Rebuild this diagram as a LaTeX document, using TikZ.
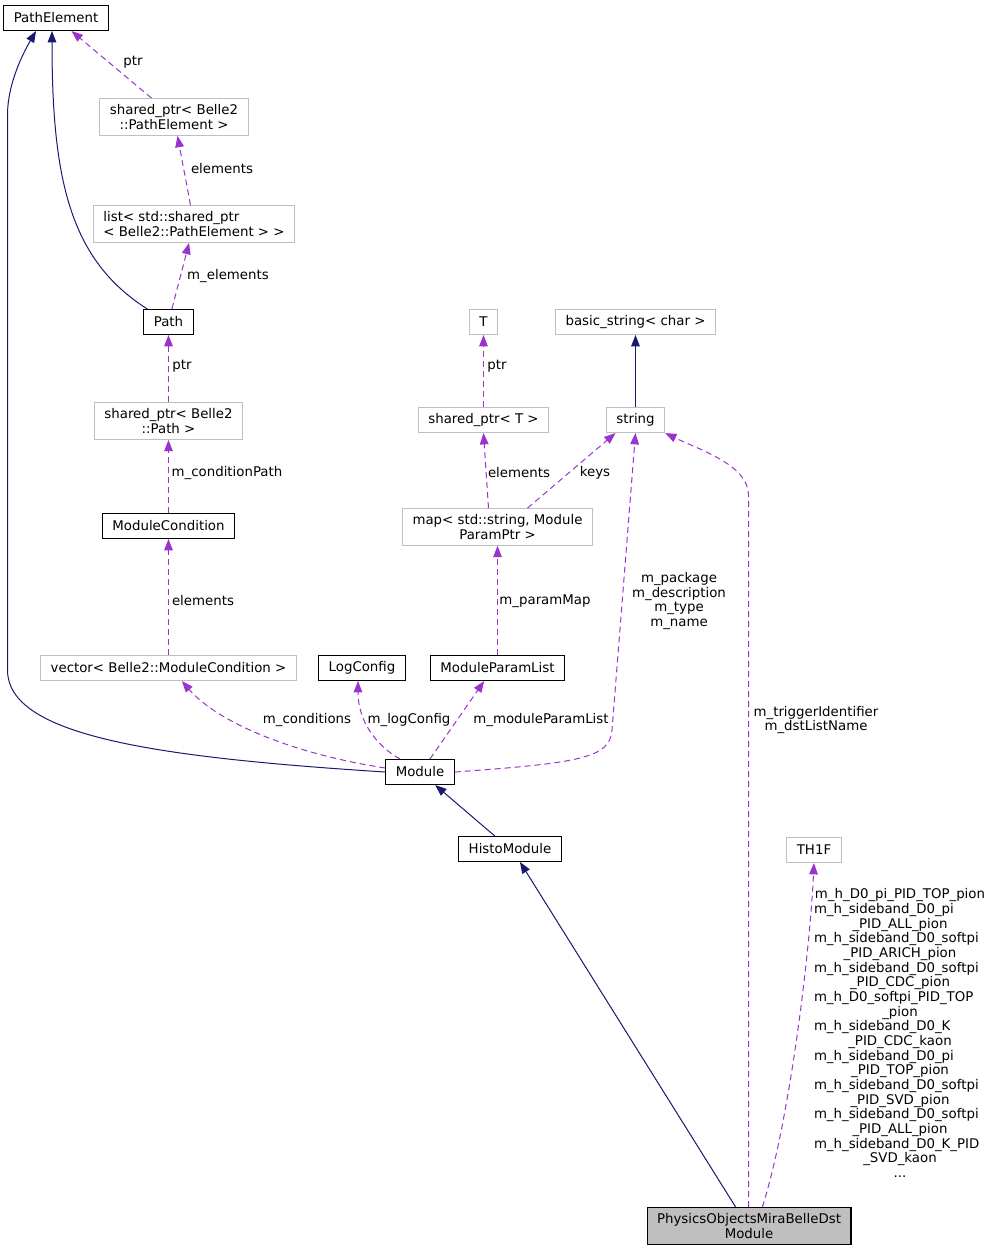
\documentclass[tikz,border=0pt]{standalone}
\usepackage{fontspec}
\setmainfont{DejaVu Sans}
\usepackage{xcolor}
\usepackage{tikz}
\usetikzlibrary{arrows.meta}

\definecolor{inhblue}{HTML}{191970}
\definecolor{usepurple}{HTML}{9A32CD}
\definecolor{undocgray}{HTML}{BFBFBF}
\newcommand{\lblleft}[1]{\makebox[\linewidth][l]{#1}}

\begin{document}
\begin{tikzpicture}[x=0.75pt, y=-0.75pt,
                every node/.style={font=\fontsize{10}{11}\selectfont},
                doc/.style={draw=black, fill=white, line width=0.8pt, inner xsep=7.5pt, inner ysep=4.4pt, minimum height=18.75pt, align=center},
                undoc/.style={doc, draw=undocgray},
                this/.style={doc, fill=undocgray},
                inh/.style={draw=inhblue, line width=0.75pt, -{Triangle[length=8.5pt, width=6.5pt]}},
                uses/.style={draw=usepurple, line width=0.75pt, dash pattern=on 4.5pt off 3pt, -{Triangle[length=8.5pt, width=6.5pt]}},
                lbl/.style={inner sep=0pt, align=center}]
                \useasboundingbox (0,0) rectangle (992,1253);
                \node[doc] (PathElement) at (56,18) {PathElement};
                \node[undoc] (PathElemPtr) at (174,117) {shared\_ptr< Belle2\\::PathElement >};
                \node[undoc, align=left] (PathElemList) at (194,224) {list< std::shared\_ptr\\< Belle2::PathElement > >};
                \node[doc] (Path) at (168.5,322) {Path};
                \node[undoc] (PathPtr) at (168.5,421) {shared\_ptr< Belle2\\::Path >};
                \node[doc] (ModuleCondition) at (168.5,526) {ModuleCondition};
                \node[undoc] (CondVector) at (168.5,668) {vector< Belle2::ModuleCondition >};
                \node[doc] (LogConfig) at (362,668) {LogConfig};
                \node[doc] (ModuleParamList) at (497.5,668) {ModuleParamList};
                \node[doc] (Module) at (420,772) {Module};
                \node[doc] (HistoModule) at (510,849) {HistoModule};
                \node[this] (MiraBelleDst) at (749,1226) {PhysicsObjectsMiraBelleDst\\Module};
                \node[undoc] (TH1F) at (814,850) {TH1F};
                \node[undoc] (T) at (483.5,322) {T};
                \node[undoc] (BasicString) at (635.5,322) {basic\_string< char >};
                \node[undoc] (TPtr) at (483.5,420) {shared\_ptr< T >};
                \node[undoc] (String) at (635.5,420) {string};
                \node[undoc] (ParamMap) at (497.5,527) {map< std::string, Module\\ParamPtr >};
                \draw[inh] (Module.west) .. controls (150,757) and (7.5,735) .. (7.5,670) -- (7.5,115) .. controls (7.5,85) and (22,55) .. ([xshift=-15pt]PathElement.south);
                \draw[inh] ([xshift=3pt]Path.north west) .. controls (70,260) and (52,180) .. ([xshift=-3pt]PathElement.south);
                \draw[uses] (PathElemPtr) -- (PathElement) node[lbl] at (133,62) {ptr};
                \draw[uses] (PathElemList) -- (PathElemPtr) node[lbl] at (222,169) {elements};
                \draw[uses] (Path) -- (PathElemList) node[lbl] at (228,276) {m\_elements};
                \draw[uses] (PathPtr) -- (Path) node[lbl] at (182,366) {ptr};
                \draw[uses] (ModuleCondition) -- (PathPtr) node[lbl] at (227,473) {m\_conditionPath};
                \draw[uses] (CondVector) -- (ModuleCondition) node[lbl] at (203,601) {elements};
                \draw[uses] ([yshift=3pt]Module.west) .. controls (300,755) and (220,725) .. ([xshift=10pt]CondVector.south) node[lbl] at (307,720) {m\_conditions};
                \draw[uses] ([xshift=-15pt]Module.north) .. controls (375,745) and (358,720) .. ([xshift=-3pt]LogConfig.south) node[lbl] at (409,720) {m\_logConfig};
                \draw[uses] ([xshift=7.5pt]Module.north) -- ([xshift=-10pt]ModuleParamList.south) node[lbl] at (541,720) {m\_moduleParamList};
                \draw[uses] (Module.east) .. controls (580,763) and (610,758) .. (612,730) -- (String.south) node[lbl] at (679,601) {m\_package\\m\_description\\m\_type\\m\_name};
                \draw[uses] (TPtr) -- (T) node[lbl] at (497,366) {ptr};
                \draw[uses] ([xshift=-6.75pt]ParamMap.north) -- (TPtr.south) node[lbl] at (519,473) {elements};
                \draw[uses] ([xshift=22.5pt]ParamMap.north) -- ([xshift=-15pt]String.south) node[lbl] at (595,473) {keys};
                \draw[inh] (String) -- (BasicString);
                \draw[uses] (ModuleParamList) -- (ParamMap) node[lbl] at (545,601) {m\_paramMap};
                \draw[inh] (HistoModule) -- (Module);
                \draw[inh] ([xshift=-10pt]MiraBelleDst.north) -- ([xshift=7.5pt]HistoModule.south);
                \draw[uses] ([xshift=-0.375pt]MiraBelleDst.north) -- (748.5,495) .. controls (748.5,465) and (700,450) .. (String.south east) node[lbl] at (816,720) {m\_triggerIdentifier\\m\_dstListName};
                \draw[uses] ([xshift=10pt]MiraBelleDst.north) .. controls (790,1120) and (810,950) .. (TH1F.south) node[lbl, text width=129pt] at (900,1033) {m\_h\_D0\_pi\_PID\_TOP\_pion\\\lblleft{m\_h\_sideband\_D0\_pi}\\\_PID\_ALL\_pion\\\lblleft{m\_h\_sideband\_D0\_softpi}\\\_PID\_ARICH\_pion\\\lblleft{m\_h\_sideband\_D0\_softpi}\\\_PID\_CDC\_pion\\\lblleft{m\_h\_D0\_softpi\_PID\_TOP}\\\_pion\\\lblleft{m\_h\_sideband\_D0\_K}\\\_PID\_CDC\_kaon\\\lblleft{m\_h\_sideband\_D0\_pi}\\\_PID\_TOP\_pion\\\lblleft{m\_h\_sideband\_D0\_softpi}\\\_PID\_SVD\_pion\\\lblleft{m\_h\_sideband\_D0\_softpi}\\\_PID\_ALL\_pion\\\lblleft{m\_h\_sideband\_D0\_K\_PID}\\\_SVD\_kaon\\...};
            \end{tikzpicture}
\end{document}
